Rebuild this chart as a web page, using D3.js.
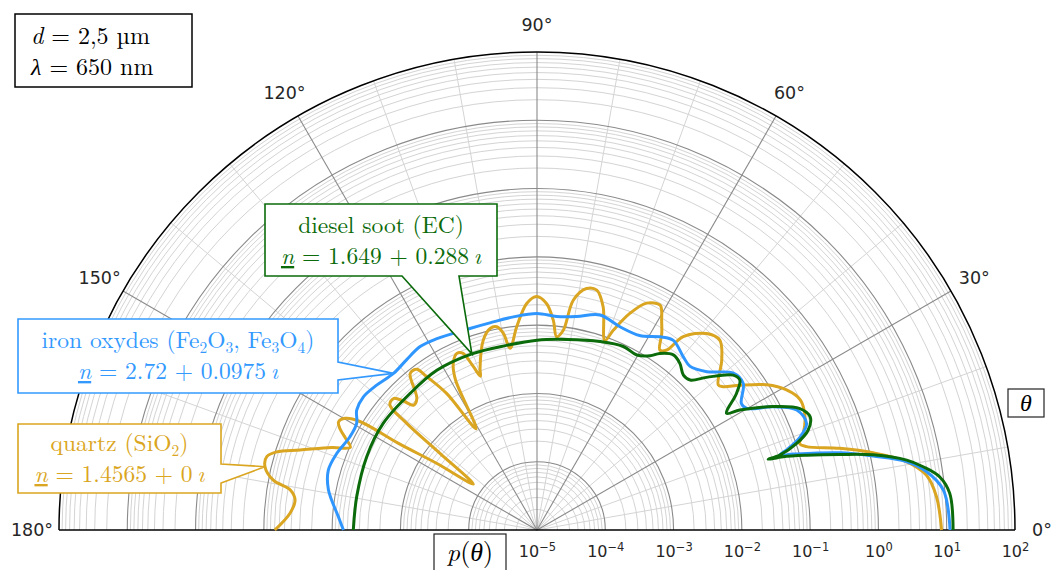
<!DOCTYPE html>
<html>
<head>
<meta charset="utf-8">
<script src="https://cdn.jsdelivr.net/npm/d3@7"></script>
<style>
  body { margin: 0; background: #fff; }
  .mathtxt { font-family: "Latin Modern Roman", "CMU Serif", "Liberation Serif", serif; }
  .ticklbl { font-family: "DejaVu Sans", sans-serif; fill: #262626; }
</style>
</head>
<body>
<div id="chart"></div>
<script>
// phase function p(theta), angles in degrees
const thetaQuartz = [180, 176.1, 172.9, 170.8, 169.3, 166.9, 164.8, 163.3, 161.35, 158.1, 156.1, 154.5, 152.7, 151.4, 149.8, 148.5, 148.0, 146.4, 144.2, 141.7, 140.7, 139.6, 137.5, 136.0, 134.7, 132.4, 129.0, 126.8, 125.8, 123.5, 121.0, 118.5, 116.7, 114.4, 112.8, 111.3, 110.2, 109.5, 105.8, 103.1, 101.2, 99.7, 98.45, 95.7, 92.6, 90.1, 87.6, 85.55, 84.2, 82.5, 81.0, 78.4, 76.0, 73.5, 70.3, 69.1, 66.8, 64.2, 61.3, 60.45, 59.3, 57.6, 55.65, 54.2, 52.9, 49.2, 46.1, 42.6, 38.65, 37.6, 35.5, 32.3, 29.3, 26.3, 22.9, 19.95, 18.2, 17.2, 15.1, 12.95, 10.5, 8.0, 4.8, 0];
const pQuartz = [6.92e-2, 4.22e-2, 3.72e-2, 4.57e-2, 8.51e-2, 0.123, 0.126, 9.55e-2, 4.57e-2, 1.74e-2, 9.77e-3, 1.26e-2, 1.78e-2, 2.04e-2, 1.78e-2, 1.10e-2, 2.51e-3, 5.75e-4, 1.41e-4, 6.46e-4, 2.95e-3, 6.76e-3, 7.08e-3, 5.25e-3, 3.72e-3, 4.07e-3, 8.91e-3, 8.71e-3, 6.03e-3, 2.51e-3, 5.37e-4, 3.16e-3, 5.37e-3, 6.92e-3, 6.46e-3, 3.72e-3, 2.51e-3, 3.16e-3, 7.76e-3, 1.07e-2, 1.08e-2, 8.32e-3, 4.90e-3, 9.77e-3, 2.09e-2, 2.63e-2, 2.09e-2, 1.20e-2, 7.00e-3, 8.91e-3, 2.57e-2, 4.07e-2, 4.17e-2, 2.57e-2, 8.91e-3, 1.35e-2, 2.82e-2, 4.90e-2, 5.69e-2, 5.01e-2, 3.76e-2, 2.57e-2, 1.55e-2, 1.78e-2, 3.55e-2, 6.31e-2, 7.24e-2, 4.73e-2, 2.51e-2, 2.75e-2, 4.47e-2, 9.55e-2, 0.155, 0.200, 0.182, 0.141, 0.112, 0.135, 0.389, 1.12, 3.16, 5.75, 7.41, 8.41];

const thetaIron = [180, 176.2, 169.1, 164, 159.1, 153.5, 149.4, 146.4, 142.5, 137.9, 132.5, 127.5, 122.5, 117.6, 108.4, 102.8, 96.3, 90, 84.7, 79.5, 73.7, 67.8, 62.2, 57.5, 54.3, 49.8, 46.9, 43.0, 38.6, 35.4, 31.75, 30.1, 27.55, 24.8, 21.6, 19.5, 17.8, 17.15, 16.5, 14.3, 12.4, 10.5, 8.5, 5.6, 0];
const pIron = [6.84e-3, 8.22e-3, 1.29e-2, 1.51e-2, 1.38e-2, 1.15e-2, 1.17e-2, 1.48e-2, 1.60e-2, 1.46e-2, 1.29e-2, 1.38e-2, 1.53e-2, 1.45e-2, 1.29e-2, 1.29e-2, 1.38e-2, 1.48e-2, 1.38e-2, 1.51e-2, 1.91e-2, 1.64e-2, 1.66e-2, 2.26e-2, 2.63e-2, 2.09e-2, 1.91e-2, 2.51e-2, 4.79e-2, 5.07e-2, 3.31e-2, 3.55e-2, 7.94e-2, 0.155, 0.176, 0.123, 6.92e-2, 5.25e-2, 8.22e-2, 0.380, 1.10, 3.16, 5.89, 9.55, 11.2];

const thetaSoot = [180, 169.5, 156.7, 145.2, 132.9, 122.1, 110.3, 99.4, 90, 81.1, 71.5, 64.8, 60.3, 57, 55.2, 52.1, 49.4, 46.6, 44.4, 42, 38.3, 36.5, 34.4, 31.6, 30.6, 27.6, 24.8, 22.5, 20.2, 18.45, 17.15, 17.0, 16.6, 15.5, 14.0, 12.6, 10.7, 9.3, 7.5, 5.07, 0];
const pSoot = [4.90e-3, 4.84e-3, 5.19e-3, 5.50e-3, 5.37e-3, 5.75e-3, 5.62e-3, 5.50e-3, 6.03e-3, 6.68e-3, 8.13e-3, 9.33e-3, 8.91e-3, 1.10e-2, 1.41e-2, 1.78e-2, 1.64e-2, 1.32e-2, 1.38e-2, 2.19e-2, 4.57e-2, 4.95e-2, 3.47e-2, 1.82e-2, 2.82e-2, 7.94e-2, 0.174, 0.214, 0.170, 0.102, 5.25e-2, 3.47e-2, 5.75e-2, 0.126, 0.372, 1.11, 3.24, 5.37, 8.91, 11.7, 12.4];

const radialTicks = [1e-5, 1e-4, 1e-3, 1e-2, 1e-1, 1e0, 1e1, 1e2];
const radialExp = ["\u22125", "\u22124", "\u22123", "\u22122", "\u22121", "0", "1", "2"];
const angleTicks = [0, 30, 60, 90, 120, 150, 180];

const cx = 537, cy = 530, R = 478;

let svg = d3.select("#chart")
  .append("svg")
  .attr("width", 1051)
  .attr("height", 570);

svg.append("rect").attr("width", 1051).attr("height", 570).attr("fill", "#fff");

let r = d3.scaleLog().domain([1e-5, 1e2]).range([0, R]);
// d3 angle: 0 at top, clockwise; theta measured from +x counter-clockwise
let ang = d3.scaleLinear().domain([0, 180]).range([Math.PI / 2, -Math.PI / 2]);

function pt(t, p) {
  let rad = t * Math.PI / 180;
  return [cx + r(p) * Math.cos(rad), cy - r(p) * Math.sin(rad)];
}
function halfCircle(rr) {
  return "M" + rr + ",0 A" + rr + "," + rr + " 0 0 0 " + (-rr) + ",0";
}

let grid = svg.append("g").attr("transform", "translate(" + cx + "," + cy + ")");

// minor circles
let minor = [];
for (let k = -5; k < 2; k++) {
  for (let m = 2; m < 10; m++) minor.push(m * Math.pow(10, k));
}
grid.selectAll(".minor-c").data(minor).enter().append("path")
  .attr("d", (d) => halfCircle(r(d)))
  .attr("fill", "none").attr("stroke", "#d4d4d4").attr("stroke-width", 1);

// minor spokes every 10 deg
let spokes = d3.range(10, 180, 10).filter((d) => d % 30 !== 0);
grid.selectAll(".minor-s").data(spokes).enter().append("line")
  .attr("x1", 0).attr("y1", 0)
  .attr("x2", (d) => R * Math.cos(d * Math.PI / 180))
  .attr("y2", (d) => -R * Math.sin(d * Math.PI / 180))
  .attr("stroke", "#d4d4d4").attr("stroke-width", 1);

// major circles
grid.selectAll(".major-c").data(radialTicks.slice(1, -1)).enter().append("path")
  .attr("d", (d) => halfCircle(r(d)))
  .attr("fill", "none").attr("stroke", "#8a8a8a").attr("stroke-width", 1.1);

grid.selectAll(".major-s").data(angleTicks.slice(1, -1)).enter().append("line")
  .attr("x1", 0).attr("y1", 0)
  .attr("x2", (d) => R * Math.cos(d * Math.PI / 180))
  .attr("y2", (d) => -R * Math.sin(d * Math.PI / 180))
  .attr("stroke", "#8a8a8a").attr("stroke-width", 1.1);

// spines
grid.append("path").attr("d", halfCircle(R))
  .attr("fill", "none").attr("stroke", "#000").attr("stroke-width", 1.5);
grid.append("line").attr("x1", -R).attr("x2", R).attr("y1", 0).attr("y2", 0)
  .attr("stroke", "#000").attr("stroke-width", 1.5);

// angle labels
grid.selectAll(".alab").data(angleTicks).enter().append("text")
  .attr("class", "ticklbl")
  .attr("x", (d) => (R + 27) * Math.cos(d * Math.PI / 180))
  .attr("y", (d) => -(R + 27) * Math.sin(d * Math.PI / 180))
  .attr("text-anchor", "middle")
  .attr("dominant-baseline", "central")
  .style("font-size", "17.5px")
  .text((d) => d + "\u00b0");

// radial tick labels
let rax = svg.append("g")
  .attr("transform", "translate(" + cx + "," + (cy + 21) + ")")
  .call(d3.axisBottom(r).tickValues(radialTicks).tickSize(0).tickFormat(""));
rax.select(".domain").remove();
rax.selectAll(".tick text").each(function (d, i) {
  let t = d3.select(this)
    .attr("class", "ticklbl")
    .attr("y", 0).attr("dy", "0.35em")
    .attr("fill", null)
    .style("font-size", "16px");
  t.text("10");
  t.append("tspan").attr("dy", "-0.45em").style("font-size", "11.5px").text(radialExp[i]);
});
rax.attr("font-family", null).attr("font-size", null);

// curves
let line = d3.lineRadial()
  .angle((d) => ang(d[0]))
  .radius((d) => r(d[1]))
  .curve(d3.curveCatmullRom.alpha(0.5));

let series = [
  {name: "quartz", th: thetaQuartz, p: pQuartz, color: "#daa520"},
  {name: "iron", th: thetaIron, p: pIron, color: "#2f96ff"},
  {name: "soot", th: thetaSoot, p: pSoot, color: "#0b6b0b"}
];
series.forEach(function (s) {
  grid.append("path")
    .datum(d3.zip(s.th, s.p))
    .attr("fill", "none")
    .attr("stroke", s.color)
    .attr("stroke-width", 3)
    .attr("stroke-linejoin", "round")
    .attr("d", line);
});

// callouts
function callout(box, tip, side, color, lines) {
  let x = box.x, y = box.y, w = box.w, h = box.h, d;
  if (side === "bottom") {
    d = "M" + x + "," + y + " H" + (x + w) + " V" + (y + h) + " H" + box.b2 +
      " L" + tip[0] + "," + tip[1] + " L" + box.b1 + "," + (y + h) + " H" + x + " Z";
  } else {
    d = "M" + x + "," + y + " H" + (x + w) + " V" + box.b1 +
      " L" + tip[0] + "," + tip[1] + " L" + (x + w) + "," + box.b2 + " V" + (y + h) + " H" + x + " Z";
  }
  svg.append("path").attr("d", d).attr("fill", "#fff")
    .attr("stroke", color).attr("stroke-width", 1.6).attr("stroke-linejoin", "miter");
  lines.forEach(function (ln, i) {
    let t = svg.append("text").attr("class", "mathtxt")
      .attr("x", x + w / 2).attr("y", y + box.ty[i])
      .attr("text-anchor", "middle")
      .attr("fill", color)
      .style("font-size", box.fs + "px");
    let shift = 0;
    ln.forEach(function (part) {
      let sp = t.append("tspan").text(part.s);
      if (part.i) sp.style("font-style", "italic");
      if (part.u) sp.style("text-decoration", "underline");
      if (part.sub) {
        sp.style("font-size", (box.fs * 0.66) + "px").attr("dy", 5 - shift);
        shift = 5;
      } else if (shift) {
        sp.attr("dy", -shift);
        shift = 0;
      }
    });
  });
}

callout({x: 265, y: 204, w: 232, h: 72, b1: 402, b2: 459, ty: [29, 60], fs: 23.5},
  pt(thetaSoot[6], pSoot[6]), "bottom", "#0b6b0b",
  [[{s: "diesel soot (EC)"}],
   [{s: "n", i: true, u: true}, {s: " = 1.649 + 0.288\u2009"}, {s: "\u0131", i: true}]]);

callout({x: 18, y: 319, w: 320, h: 74, b1: 362, b2: 380, ty: [29, 60], fs: 23.5},
  pt(thetaIron[10], pIron[10]), "right", "#3399ff",
  [[{s: "iron oxydes (Fe"}, {s: "2", sub: true}, {s: "O"}, {s: "3", sub: true}, {s: ", Fe"},
    {s: "3", sub: true}, {s: "O"}, {s: "4", sub: true}, {s: ")"}],
   [{s: "n", i: true, u: true}, {s: " = 2.72 + 0.0975\u2009"}, {s: "\u0131", i: true}]]);

callout({x: 18, y: 424, w: 203, h: 69, b1: 464, b2: 483, ty: [27, 58], fs: 23.5},
  pt(thetaQuartz[5], pQuartz[5]), "right", "#daa520",
  [[{s: "quartz (SiO"}, {s: "2", sub: true}, {s: ")"}],
   [{s: "n", i: true, u: true}, {s: " = 1.4565 + 0\u2009"}, {s: "\u0131", i: true}]]);

// parameter box
svg.append("rect").attr("x", 15).attr("y", 14).attr("width", 177).attr("height", 73)
  .attr("fill", "#fff").attr("stroke", "#000").attr("stroke-width", 1.5);
let l1 = svg.append("text").attr("class", "mathtxt").attr("x", 31).attr("y", 44).style("font-size", "24px");
l1.append("tspan").style("font-style", "italic").text("d");
l1.append("tspan").text(" = 2,5 \u00b5m");
let l2 = svg.append("text").attr("class", "mathtxt").attr("x", 31).attr("y", 75).style("font-size", "24px");
l2.append("tspan").style("font-style", "italic").text("\u03bb");
l2.append("tspan").text(" = 650 nm");

// axis name boxes
svg.append("rect").attr("x", 434).attr("y", 534).attr("width", 72).attr("height", 50)
  .attr("fill", "#fff").attr("stroke", "#222").attr("stroke-width", 1.2);
let pt1 = svg.append("text").attr("class", "mathtxt").attr("x", 470).attr("y", 561)
  .attr("text-anchor", "middle").style("font-size", "26px");
pt1.append("tspan").style("font-style", "italic").text("p");
pt1.append("tspan").text("(");
pt1.append("tspan").style("font-style", "italic").text("\u03b8");
pt1.append("tspan").text(")");

svg.append("rect").attr("x", 1008).attr("y", 389).attr("width", 36).attr("height", 28)
  .attr("fill", "#fff").attr("stroke", "#222").attr("stroke-width", 1.2);
svg.append("text").attr("class", "mathtxt").attr("x", 1026).attr("y", 411)
  .attr("text-anchor", "middle").style("font-size", "24px").style("font-style", "italic")
  .text("\u03b8");
</script>
</body>
</html>
